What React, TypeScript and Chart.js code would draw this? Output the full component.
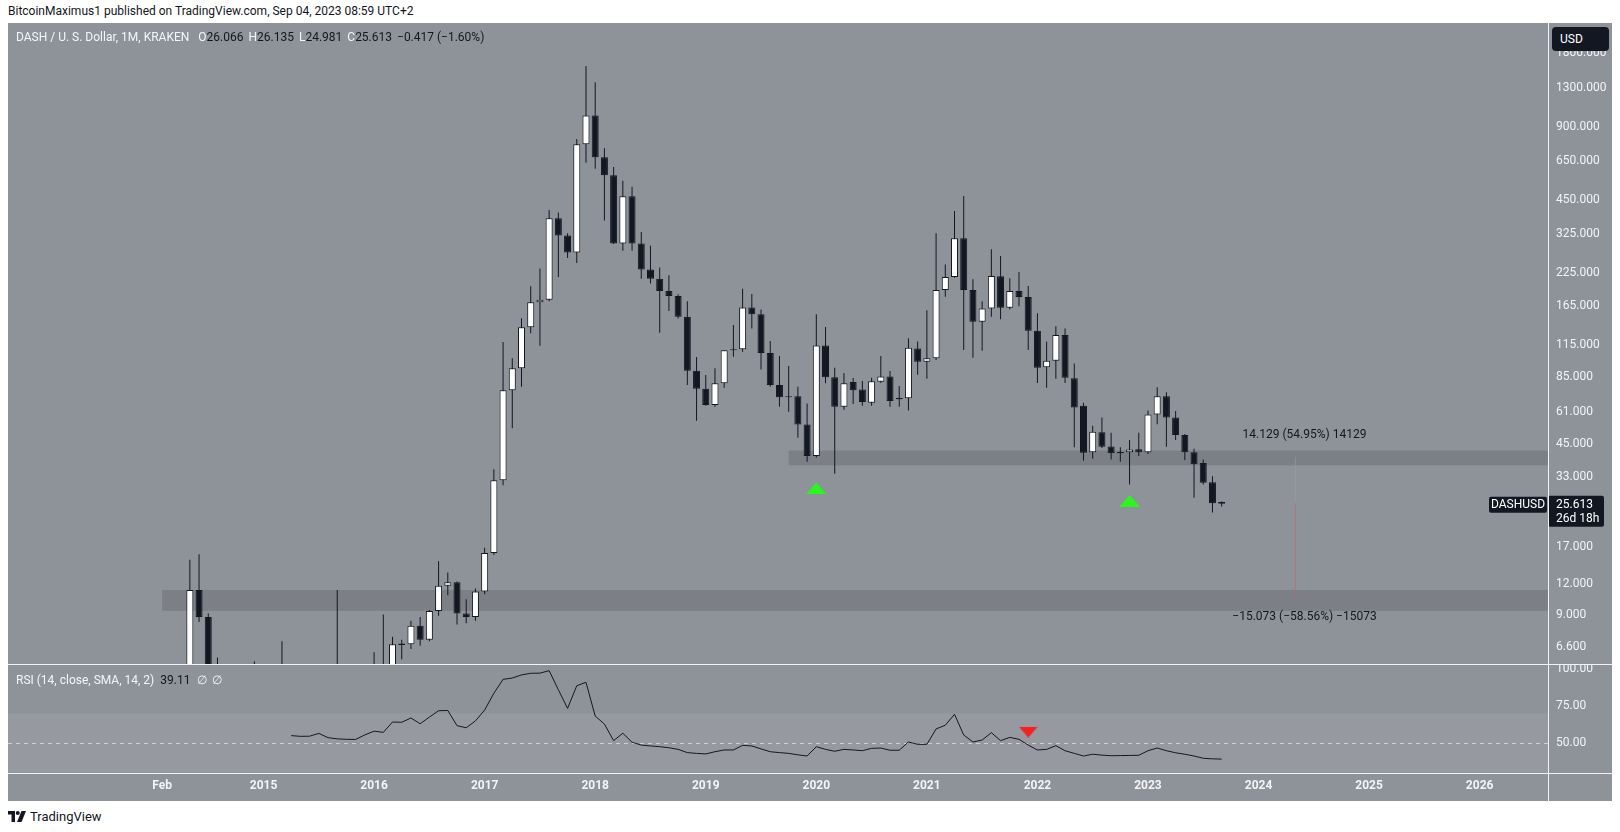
import React, { useEffect, useRef } from 'react';
import { Chart, registerables } from 'chart.js';

Chart.register(...registerables);

// ---------------- data (monthly DASH/USD candles, Feb 2014 .. Sep 2023) ----------------
const firstMonth = '2014-02';
const open = [
  1.9, 2.5, 3.1, 4.2, 11.35, 8.8, 4.0, 3.2, 3.0, 2.5, 2.4,
  2.1, 1.9, 3.5, 3.3, 3.1, 2.8, 3.0, 3.6, 3.1, 3.0, 2.9, 2.9,
  3.4, 4.0, 3.9, 6.75, 6.8, 8.1, 7.1, 9.3, 11.8, 12.2, 9.1, 8.8,
  11.2, 16.1, 32.0, 74.8, 91.9, 135.3, 171.3, 175.5, 379, 321.7, 274, 761,
  998, 673, 568.6, 298.5, 466, 298.5, 233.6, 214, 190.8, 182, 149.6, 89.9,
  75.8, 65, 79.8, 108.9, 110, 163.3, 153, 106.3, 78.6, 69.9, 70.7, 54.1,
  40.2, 114.1, 84.5, 64, 80.8, 75.3, 66.4, 81, 85, 68.6, 69.3, 110.9,
  97.8, 101, 192.7, 217.8, 314, 192.7, 142.7, 161.7, 219, 162.6, 190.8, 180,
  131, 92.8, 98.7, 125.9, 83.6, 64.5, 41.6, 50.3, 44, 41.2, 41.6, 42.8,
  41.6, 59.5, 70.6, 57.8, 49, 41.6, 37.6, 31.4, 26.066,
];
const high = [
  2.8, 3.6, 4.8, 15.1, 15.9, 9.1, 6.0, 4.5, 3.6, 3.2, 5.8,
  2.6, 4.5, 7.0, 3.8, 3.5, 3.3, 4.2, 3.9, 11.35, 3.3, 3.3, 3.8,
  6.3, 9.0, 7.3, 7.1, 8.5, 8.8, 9.4, 14.9, 13.4, 12.3, 10.4, 11.5,
  16.9, 35.5, 117.7, 101, 147.4, 199.5, 236, 409.5, 400, 329, 800.5, 1594,
  1367, 734, 614, 539, 510, 332.8, 292, 238, 221, 185, 173, 102.3,
  86.3, 91.9, 109, 138.3, 194.6, 185.3, 160.3, 118.9, 103.3, 93.9, 77.3, 66,
  153, 135.8, 92.5, 88, 83.8, 81.5, 84, 103.3, 89.6, 77.8, 122, 118.5,
  158.9, 329, 245, 405.5, 467, 213, 173, 282.6, 265, 215, 228, 200,
  154.4, 118, 136.7, 134, 96.3, 66.4, 53.5, 57.8, 50, 43.6, 46.7, 50,
  61.8, 76.8, 73.4, 61.4, 49.4, 43, 38.9, 33.2, 26.135,
];
const low = [
  1.5, 2.2, 2.6, 3.9, 8.4, 3.5, 2.8, 2.6, 2.2, 2.1, 2.0,
  1.5, 1.8, 3.0, 2.6, 2.5, 2.5, 2.8, 2.9, 2.7, 2.6, 2.5, 2.8,
  3.1, 3.4, 3.6, 5.9, 6.5, 6.7, 7.0, 8.9, 10.8, 8.2, 8.3, 8.5,
  10.9, 15.8, 30.5, 52.2, 77.3, 128, 113.7, 173, 217.7, 260.6, 248.6, 639.6,
  604, 370.5, 297, 279, 279, 214, 204.5, 128.5, 158, 147, 78.5, 56.0,
  64.5, 64, 76.6, 102.6, 107.5, 134, 91, 77.3, 64, 61, 47.7, 38.1,
  39.6, 79.8, 34, 62.2, 65.7, 64.5, 64.5, 80, 64, 64, 61.8, 86.5,
  83.4, 99.5, 180.6, 216, 109.2, 101.6, 108.4, 149.6, 145.9, 160, 165, 109.2,
  80, 76.6, 83.4, 80, 43.6, 38.4, 39.2, 43.3, 38.9, 38.1, 30.7, 40.2,
  41, 54.2, 43.9, 46.7, 38.7, 27.1, 30.7, 23.6, 24.981,
];
const close = [
  2.5, 3.1, 4.2, 11.35, 8.8, 4.0, 3.2, 3.0, 2.5, 2.4, 2.1,
  1.9, 3.5, 3.3, 3.1, 2.8, 3.0, 3.6, 3.1, 3.0, 2.9, 2.9, 3.4,
  4.0, 3.9, 6.8, 6.85, 8.1, 7.1, 9.3, 11.8, 12.2, 9.1, 8.8, 11.2,
  16.1, 32.0, 74.8, 91.9, 135.3, 171.3, 175.5, 379, 321.7, 274, 761, 998,
  673, 568.6, 298.5, 466, 298.5, 233.6, 214, 190.8, 182, 149.6, 89.9, 75.8,
  65, 79.8, 108.9, 110, 163.3, 153, 106.3, 78.6, 69.9, 70.7, 54.1, 40.2,
  114.1, 84.5, 64, 79.8, 74.8, 66.9, 81.3, 85, 67.6, 69.4, 111.6, 97.8,
  101, 192.7, 217.8, 314, 192.7, 142.7, 161.7, 219.9, 162.6, 190.8, 180, 131,
  92.4, 98.7, 125.9, 84.1, 63.5, 41.4, 50.5, 43.9, 41.2, 41.7, 42.7, 41.6,
  59.5, 70.6, 57.8, 49, 41.6, 37.2, 31.2, 25.7, 25.613,
];
const rsi = [
  null, null, null, null, null, null, null, null, null, null, null, null, null, null,
  55, 54.5, 54.6, 56.5, 53.6, 52.8, 52.5, 52.4, 55.5,
  58, 57.2, 64.2, 64, 66.9, 63, 67.5, 71.8, 72, 61.7, 60.3, 64.9,
  72.3, 83.6, 93, 93.9, 96, 97.1, 97.2, 98.9, 86, 73.4, 88.7, 91,
  68.2, 62.8, 51.6, 56.6, 50.5, 48.6, 48, 47.5, 46.8, 45.7, 43.5, 43,
  42.6, 44.1, 45.3, 45.3, 48.4, 48, 46, 44.1, 43.5, 43, 42, 41.2,
  47.5, 45.7, 44.4, 45.7, 45.3, 44.8, 46.4, 46.6, 45.1, 45.1, 50.7, 49.1,
  49.1, 59.5, 62, 69.4, 55.4, 50.7, 52, 57, 51.6, 53.8, 52.5, 48.6,
  45.3, 45.7, 48.2, 44.8, 43, 41.2, 42.4, 41.8, 41.4, 41.5, 41.6, 41.7,
  44.8, 46.6, 44.8, 43.4, 42.4, 41.2, 39.7, 39.3, 39.11,
];
const xTickLabels = ['Feb', '2015', '2016', '2017', '2018', '2019', '2020', '2021', '2022', '2023', '2024', '2025', '2026'];
const priceTicks = [1800, 1300, 900, 650, 450, 325, 225, 165, 115, 85, 61, 45, 33, 17, 12, 9, 6.6];
const rsiTicks = [100, 75, 50];
const zoneStart = ['2014-02', '2019-10'];
const zoneLow = [9.33, 36.8];
const zoneHigh = [11.35, 42.3];
const signalMonths = ['2020-01', '2022-11'];
const signalPrices = [29.6, 26.3];
const rsiSignalMonths = ['2021-12'];
const rsiSignalValues = [57.4];
const measureMonth = '2024-05';
const measureValues = [39.85, 25.72, 10.65];
const measureLabels = ['14.129 (54.95%) 14129', '\u221215.073 (\u221258.56%) \u221215073'];

// ---------------- helpers ----------------
const monthIndex = (ym: string) => {
  const [y, m] = ym.split('-').map(Number);
  const [y0, m0] = firstMonth.split('-').map(Number);
  return (y - y0) * 12 + (m - m0);
};
const tickIndex = (label: string) => (label === 'Feb' ? monthIndex('2014-02') : monthIndex(label + '-01'));

const BG = '#8e9299';
const INK = '#131722';
const AXIS_TXT = '#f3f4f6';
const FONT = 'Roboto, "Noto Sans", sans-serif';
const X_MIN = -16.737;
const X_MAX = 150.42;

function triangle(w: number, h: number, color: string, up: boolean) {
  const c = document.createElement('canvas');
  c.width = w;
  c.height = h;
  const g = c.getContext('2d')!;
  g.fillStyle = color;
  g.beginPath();
  if (up) {
    g.moveTo(w / 2, 0);
    g.lineTo(w, h);
    g.lineTo(0, h);
  } else {
    g.moveTo(0, 0);
    g.lineTo(w, 0);
    g.lineTo(w / 2, h);
  }
  g.closePath();
  g.fill();
  return c;
}

export default function App() {
  const mainRef = useRef<HTMLCanvasElement>(null);
  const rsiRef = useRef<HTMLCanvasElement>(null);

  useEffect(() => {
    const lastClose = close[close.length - 1];

    const mainPlugin = {
      id: 'mainDecor',
      beforeDatasetsDraw(chart: any) {
        const { ctx, chartArea, scales } = chart;
        const x = scales.x;
        const y = scales.y;
        ctx.save();
        ctx.fillStyle = 'rgba(105,108,115,0.5)';
        zoneStart.forEach((s, k) => {
          const x0 = x.getPixelForValue(monthIndex(s));
          const y0 = y.getPixelForValue(zoneHigh[k]);
          const y1 = y.getPixelForValue(zoneLow[k]);
          ctx.fillRect(x0, y0, chartArea.right - x0, y1 - y0);
        });
        ctx.restore();
      },
      afterDatasetsDraw(chart: any) {
        const { ctx, scales } = chart;
        const x = scales.x;
        const y = scales.y;
        const lx = Math.round(x.getPixelForValue(monthIndex(measureMonth))) + 0.5;
        const yUp = y.getPixelForValue(measureValues[0]);
        const yMid = y.getPixelForValue(measureValues[1]);
        const yDn = y.getPixelForValue(measureValues[2]);
        ctx.save();
        ctx.lineWidth = 1;
        ctx.strokeStyle = 'rgba(150,160,160,0.55)';
        ctx.beginPath();
        ctx.moveTo(lx, yUp);
        ctx.lineTo(lx, yMid);
        ctx.stroke();
        ctx.strokeStyle = 'rgba(185,105,110,0.6)';
        ctx.beginPath();
        ctx.moveTo(lx, yMid);
        ctx.lineTo(lx, yDn);
        ctx.stroke();
        ctx.fillStyle = INK;
        ctx.font = '12px ' + FONT;
        ctx.textAlign = 'center';
        ctx.textBaseline = 'middle';
        ctx.fillText(measureLabels[0], lx + 9, yUp - 22);
        ctx.fillText(measureLabels[1], lx + 9, yDn + 20);
        ctx.restore();
      },
      afterDraw(chart: any) {
        const { ctx, chartArea, scales } = chart;
        const y = scales.y;
        const py = y.getPixelForValue(lastClose);
        ctx.save();
        ctx.fillStyle = INK;
        ctx.beginPath();
        ctx.roundRect(chartArea.right, py - 8, 56, 31, 2);
        ctx.fill();
        ctx.beginPath();
        ctx.roundRect(chartArea.right - 59, py - 7, 58, 16, 2);
        ctx.fill();
        ctx.fillStyle = '#ffffff';
        ctx.font = '12px ' + FONT;
        ctx.textBaseline = 'middle';
        ctx.textAlign = 'left';
        ctx.fillText(lastClose.toFixed(3), chartArea.right + 8, py + 1);
        ctx.fillText('26d 18h', chartArea.right + 8, py + 15);
        ctx.textAlign = 'center';
        ctx.fillText('DASHUSD', chartArea.right - 30, py + 1);
        ctx.restore();
      },
    };

    const idx = open.map((_, i) => i);
    const main = new Chart(mainRef.current!, {
      type: 'bar',
      data: {
        datasets: [
          {
            label: 'body',
            data: idx.map((i) => ({ x: i, y: [open[i], close[i]] })) as any,
            backgroundColor: idx.map((i) => (close[i] >= open[i] ? '#ffffff' : INK)),
            borderColor: INK,
            borderWidth: 1,
            borderSkipped: false,
            barThickness: 7,
            grouped: false,
            inflateAmount: 0,
            order: 1,
          } as any,
          {
            label: 'wick',
            data: idx.map((i) => ({ x: i, y: [low[i], high[i]] })) as any,
            backgroundColor: INK,
            borderWidth: 0,
            barThickness: 1,
            grouped: false,
            inflateAmount: 0,
            order: 2,
          } as any,
          {
            type: 'scatter',
            label: 'signals',
            data: signalMonths.map((m, k) => ({ x: monthIndex(m), y: signalPrices[k] })),
            pointStyle: triangle(21, 12, '#2cf51f', true) as any,
            pointRadius: 6,
            order: 0,
          } as any,
        ],
      },
      options: {
        animation: false,
        responsive: false,
        maintainAspectRatio: false,
        devicePixelRatio: 1,
        layout: { padding: 0, autoPadding: false },
        plugins: { legend: { display: false }, tooltip: { enabled: false } },
        scales: {
          x: { type: 'linear', min: X_MIN, max: X_MAX, display: false, offset: false, bounds: 'data' } as any,
          y: {
            type: 'logarithmic',
            position: 'right',
            min: 5.645,
            max: 2391,
            bounds: 'data',
            grid: { display: false, drawTicks: false },
            border: { display: false },
            ticks: {
              color: AXIS_TXT,
              font: { family: FONT, size: 12 },
              padding: 8,
              autoSkip: false,
              callback: (v: any) => Number(v).toFixed(3),
            },
            afterBuildTicks: (s: any) => {
              s.ticks = priceTicks.map((v) => ({ value: v }));
            },
            afterFit: (s: any) => {
              s.width = 64;
              s.paddingTop = 0;
              s.paddingBottom = 0;
            },
          } as any,
        },
      } as any,
      plugins: [mainPlugin],
    });

    const rsiPlugin = {
      id: 'rsiDecor',
      beforeDatasetsDraw(chart: any) {
        const { ctx, chartArea, scales } = chart;
        const y = scales.y;
        const y70 = y.getPixelForValue(70);
        const y30 = y.getPixelForValue(30);
        const y50 = Math.round(y.getPixelForValue(50)) + 0.5;
        ctx.save();
        ctx.fillStyle = 'rgba(255,255,255,0.07)';
        ctx.fillRect(chartArea.left, y70, chartArea.right - chartArea.left, y30 - y70);
        ctx.strokeStyle = 'rgba(225,227,232,0.75)';
        ctx.lineWidth = 1;
        ctx.setLineDash([4, 4]);
        ctx.beginPath();
        ctx.moveTo(chartArea.left, y50);
        ctx.lineTo(chartArea.right, y50);
        ctx.stroke();
        ctx.restore();
      },
    };

    const rsiChart = new Chart(rsiRef.current!, {
      type: 'line',
      data: {
        datasets: [
          {
            label: 'RSI',
            data: idx.map((i) => ({ x: i, y: rsi[i] })) as any,
            borderColor: INK,
            borderWidth: 1,
            pointRadius: 0,
            tension: 0,
            spanGaps: false,
            order: 1,
          },
          {
            type: 'scatter',
            label: 'rsiSignal',
            data: rsiSignalMonths.map((m, k) => ({ x: monthIndex(m), y: rsiSignalValues[k] })),
            pointStyle: triangle(19, 11, '#f81f1f', false) as any,
            pointRadius: 6,
            order: 0,
          } as any,
        ],
      },
      options: {
        animation: false,
        responsive: false,
        maintainAspectRatio: false,
        devicePixelRatio: 1,
        layout: { padding: 0, autoPadding: false },
        plugins: { legend: { display: false }, tooltip: { enabled: false } },
        scales: {
          x: {
            type: 'linear',
            min: X_MIN,
            max: X_MAX,
            bounds: 'data',
            position: 'bottom',
            grid: { display: false, drawTicks: false },
            border: { display: false },
            ticks: {
              color: AXIS_TXT,
              font: { family: FONT, size: 12, weight: 'bold' },
              padding: 6,
              autoSkip: false,
              maxRotation: 0,
              callback: (_v: any, i: number) => xTickLabels[i],
            },
            afterBuildTicks: (s: any) => {
              s.ticks = xTickLabels.map((l) => ({ value: tickIndex(l) }));
            },
            afterFit: (s: any) => {
              s.height = 28;
              s.paddingLeft = 0;
              s.paddingRight = 0;
            },
          } as any,
          y: {
            type: 'linear',
            position: 'right',
            min: 29.73,
            max: 103.38,
            bounds: 'data',
            grid: { display: false, drawTicks: false },
            border: { display: false },
            ticks: {
              color: AXIS_TXT,
              font: { family: FONT, size: 12 },
              padding: 8,
              autoSkip: false,
              callback: (v: any) => Number(v).toFixed(2),
            },
            afterBuildTicks: (s: any) => {
              s.ticks = rsiTicks.map((v) => ({ value: v }));
            },
            afterFit: (s: any) => {
              s.width = 64;
              s.paddingTop = 0;
              s.paddingBottom = 0;
            },
          } as any,
        },
      } as any,
      plugins: [rsiPlugin],
    });

    return () => {
      main.destroy();
      rsiChart.destroy();
    };
  }, []);

  const abs = (s: any) => ({ position: 'absolute', ...s }) as React.CSSProperties;
  const white = '#f5f6f8';

  return (
    <div style={{ position: 'fixed', left: 0, top: 0, width: 1620, height: 832, background: '#ffffff', overflow: 'hidden', fontFamily: FONT }}>
      <div style={abs({ left: 8, top: 3, fontSize: 12, lineHeight: '16px', color: INK, whiteSpace: 'nowrap' })}>
        BitcoinMaximus1 published on TradingView.com, Sep 04, 2023 08:59 UTC+2
      </div>
      <div style={abs({ left: 8, top: 23, width: 1604, height: 778, background: BG })} />
      <canvas ref={mainRef} width={1604} height={641} style={abs({ left: 8, top: 23, width: 1604, height: 641 })} />
      <canvas ref={rsiRef} width={1604} height={137} style={abs({ left: 8, top: 664, width: 1604, height: 137 })} />
      {/* frame lines */}
      <div style={abs({ left: 1548, top: 23, width: 1, height: 778, background: '#f2f3f5' })} />
      <div style={abs({ left: 8, top: 664, width: 1604, height: 1, background: '#f2f3f5' })} />
      <div style={abs({ left: 8, top: 773, width: 1604, height: 1, background: '#f2f3f5' })} />
      {/* legend */}
      <div style={abs({ left: 16, top: 29, fontSize: 12, lineHeight: '16px', whiteSpace: 'nowrap', color: white })}>
        <span>DASH / U. S. Dollar, 1M, KRAKEN</span>
        <span style={{ marginLeft: 9 }}>O</span><span style={{ color: INK }}>26.066</span>
        <span style={{ marginLeft: 5 }}>H</span><span style={{ color: INK }}>26.135</span>
        <span style={{ marginLeft: 5 }}>L</span><span style={{ color: INK }}>24.981</span>
        <span style={{ marginLeft: 5 }}>C</span><span style={{ color: INK }}>25.613</span>
        <span style={{ marginLeft: 5, color: INK }}>{'\u22120.417 (\u22121.60%)'}</span>
      </div>
      <div style={abs({ left: 16, top: 672, fontSize: 12, lineHeight: '16px', whiteSpace: 'nowrap', color: white })}>
        <span>RSI (14, close, SMA, 14, 2)</span>
        <span style={{ marginLeft: 6, color: INK }}>39.11</span>
        <span style={{ marginLeft: 7 }}>{'\u2205'}</span>
        <span style={{ marginLeft: 5 }}>{'\u2205'}</span>
      </div>
      <div style={abs({ left: 1552, top: 27, width: 57, height: 24, background: INK, borderRadius: 4, color: '#ffffff', fontSize: 12, lineHeight: '24px', paddingLeft: 8, boxSizing: 'border-box' })}>
        USD
      </div>
      {/* footer */}
      <div style={abs({ left: 8, top: 808, height: 16, display: 'flex', alignItems: 'center', color: INK, fontSize: 13 })}>
        <svg width="18" height="11" viewBox="0 0 36 22" style={{ marginRight: 4 }}>
          <path d="M0 0 H14 V22 H7 V7 H0 Z" fill={INK} />
          <circle cx="19.5" cy="4" r="4" fill={INK} />
          <path d="M27 0 H36 L27 22 H18 Z" fill={INK} />
        </svg>
        <span>TradingView</span>
      </div>
    </div>
  );
}
